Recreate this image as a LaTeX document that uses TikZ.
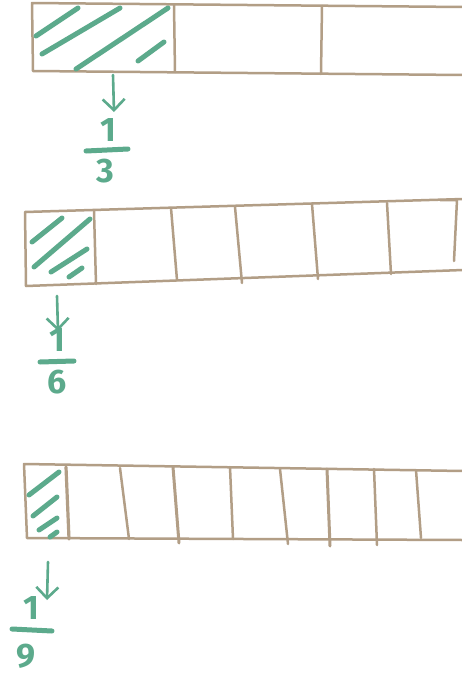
\documentclass[tikz,border=0pt]{standalone}
\usepackage{fontspec}
\setsansfont{Fira Sans}
\usepackage{tikz}
\usetikzlibrary{positioning,arrows.meta}
\definecolor{barbrown}{RGB}{178,158,134}
\definecolor{pengreen}{RGB}{92,170,140}
\tikzset{bar/.style={draw=barbrown,line width=2.5pt,line cap=round,line join=round},
 hatch/.style={draw=pengreen,line width=5pt,line cap=round},
 pointer/.style={draw=pengreen,line width=2.6pt,line cap=round,-{Straight Barb[length=11pt,width=22pt,line width=2.6pt]}},
 digit/.style={text=pengreen,font=\sffamily\bfseries\fontsize{34}{34}\selectfont,inner sep=0pt}}
\begin{document}
\begin{tikzpicture}[x=1pt,y=-1pt]
\useasboundingbox[fill=white] (0,0) rectangle (462,675);
% thirds
\coordinate (T1) at (32,3);
\coordinate (T2) at (463,7);
\coordinate (T3) at (463,75);
\coordinate (T4) at (33,71);
\draw[bar] (T2)--(T1)--(T4)--(T3);
\draw[bar] (174,5)--(175,72);
\draw[bar] (322,6)--(321,74);
\draw[hatch] (36,36)--(78,8);
\draw[hatch] (42,54)--(120,8);
\draw[hatch] (76,69)--(168,8);
\draw[hatch] (138,61)--(164,42);
\coordinate (p1) at (113,75);
\node[digit] (one1) at (108,130) {1};
\node[digit] (den1) at (105,171) {3};
\draw[pointer] (p1) -- (114,112);
\draw[hatch] (86,151)--(128,149);
% sixths
\coordinate (S1) at (25,212);
\coordinate (S2) at (463,199);
\coordinate (S3) at (463,270);
\coordinate (S4) at (26,286);
\draw[bar] (S2)--(S1)--(S4)--(S3);
\draw[bar] (94,211)--(96,284);
\draw[bar] (171,208)--(177,280);
\draw[bar] (235,207)--(242,283);
\draw[bar] (312,204)--(318,279);
\draw[bar] (387,203)--(391,274);
\draw[bar] (440,200)--(457,200)--(454,261);
\draw[hatch] (32,242)--(62,218);
\draw[hatch] (34,267)--(90,219);
\draw[hatch] (51,272)--(87,249);
\draw[hatch] (69,277)--(82,268);
\coordinate (p2) at (57,296);
\node[digit] (one2) at (57,340) {1};
\node[digit] (den2) at (57,382) {6};
\draw[pointer] (p2) -- (58,331);
\draw[hatch] (40,362)--(74,361);
% ninths
\coordinate (N1) at (24,464);
\coordinate (N2) at (463,471);
\coordinate (N3) at (463,540);
\coordinate (N4) at (27,538);
\draw[bar] (N2)--(N1)--(N4)--(N3);
\draw[bar,line width=3.2pt] (66,467)--(69,539);
\draw[bar] (120,468)--(129,539);
\draw[bar,line width=3pt] (173,467)--(179,543);
\draw[bar] (230,467)--(233,539);
\draw[bar] (280,469)--(288,544);
\draw[bar,line width=3pt] (327,469)--(330,546);
\draw[bar] (374,469)--(377,545);
\draw[bar] (416,470)--(421,538);
\draw[hatch] (29,495)--(59,472);
\draw[hatch] (33,516)--(57,497);
\draw[hatch] (39,530)--(57,518);
\draw[hatch] (50,537)--(57,532);
\coordinate (p3) at (48,562);
\node[digit] (one3) at (31,608) {1};
\node[digit] (den3) at (26,656) {9};
\draw[pointer] (p3) -- (47,600);
\draw[hatch] (12,629)--(52,631);
\end{tikzpicture}
\end{document}
